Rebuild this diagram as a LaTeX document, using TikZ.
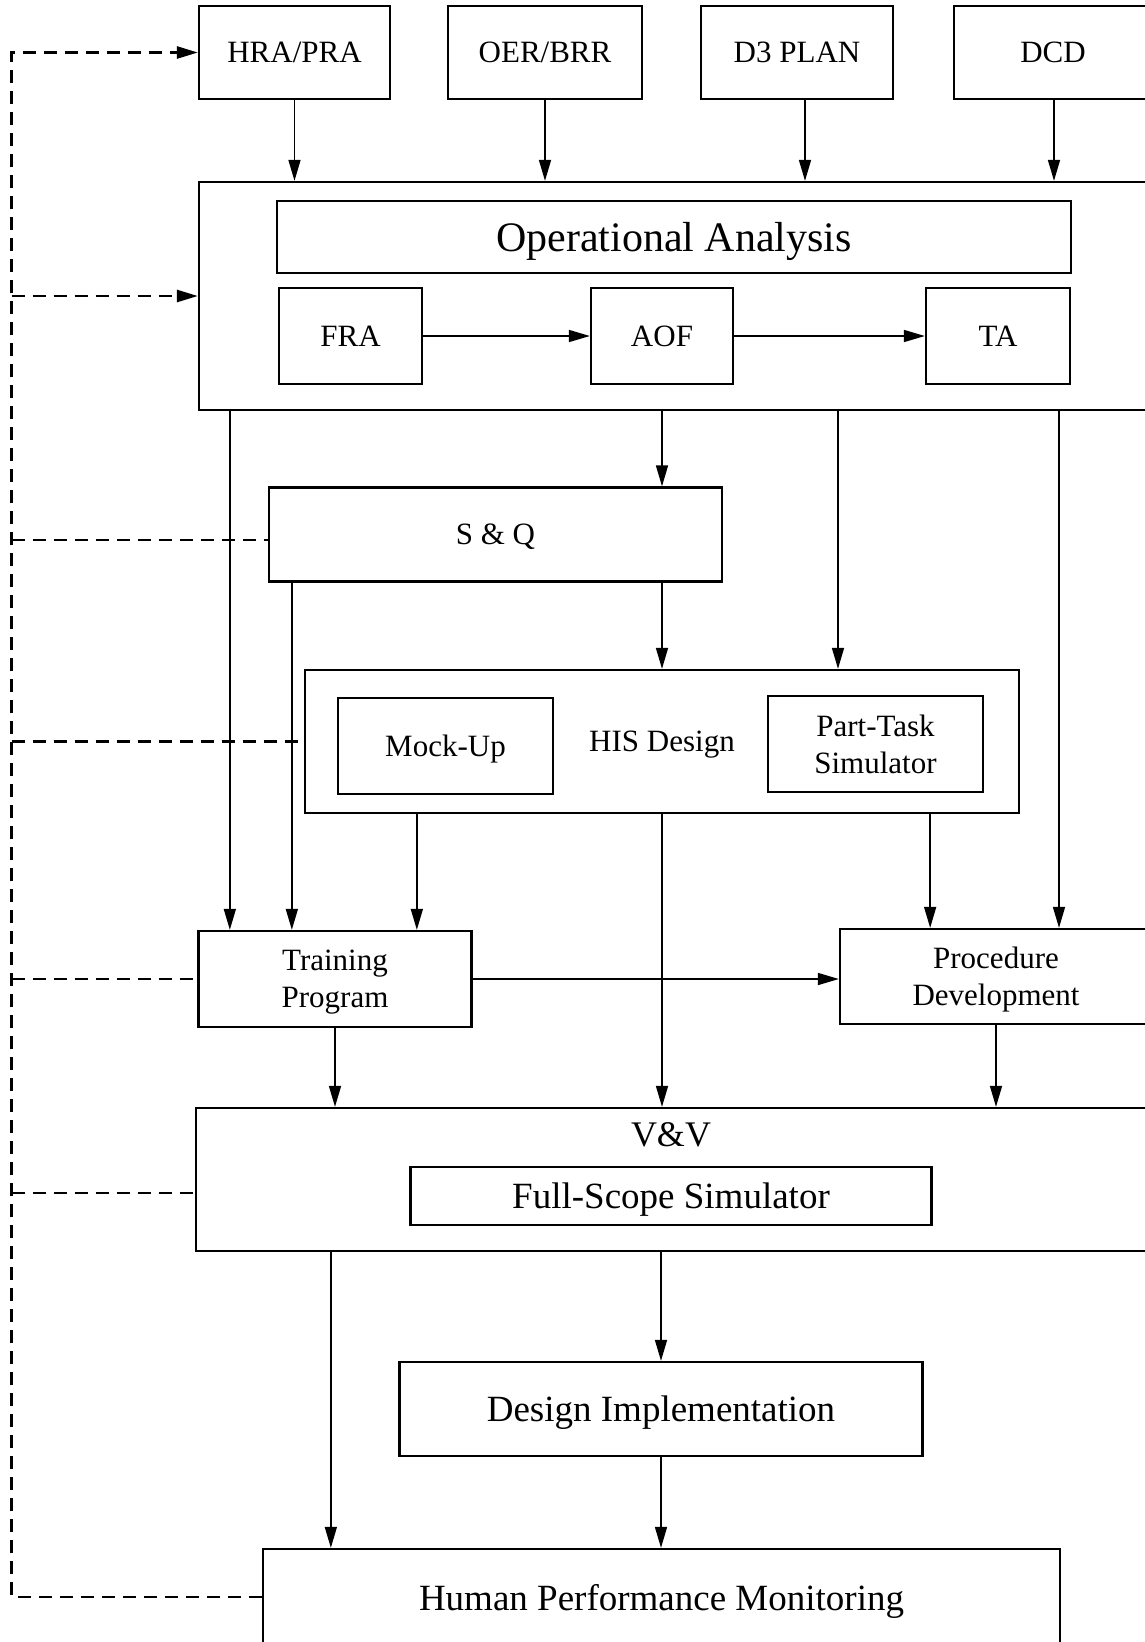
\documentclass[tikz,border=0pt]{standalone}
\usepackage{fontspec}
\setmainfont{Liberation Serif}
\usetikzlibrary{arrows.meta}
\begin{document}
\begin{tikzpicture}[x=1pt,y=-1pt,
  box/.style={draw, line width=2.3pt, inner sep=0pt, align=center, text depth=0pt, font=\fontsize{31}{37}\selectfont},
  bigbox/.style={box, font=\fontsize{37}{42}\selectfont},
  arr/.style={line width=1.6pt, -{Triangle[length=21pt,width=12pt]}},
  fb/.style={line width=2.6pt, dash pattern=on 13pt off 8pt},
  fbarr/.style={fb, -{Triangle[length=21pt,width=12pt]}},
]
\useasboundingbox (0,0) rectangle (1145,1642);
\clip (0,0) rectangle (1145,1642);
\fill[white] (0,0) rectangle (1145,1642);

% top inputs
\node[box, minimum width=191pt, minimum height=93pt] (hra) at (294.5,52.5) {HRA/PRA};
\node[box, minimum width=194pt, minimum height=93pt] (oer) at (545,52.5) {OER/BRR};
\node[box, minimum width=192pt, minimum height=93pt] (d3) at (797,52.5) {D3 PLAN};
\node[box, minimum width=198pt, minimum height=93pt] (dcd) at (1053,52.5) {DCD};

% operational analysis
\node[box, minimum width=966pt, minimum height=228pt] (oa) at (682,296) {};
\node[box, minimum width=794pt, minimum height=72pt, font=\fontsize{42}{48}\selectfont] (oat) at (674,237) {Operational Analysis};
\node[box, minimum width=143pt, minimum height=96pt] (fra) at (350.5,336) {FRA};
\node[box, minimum width=142pt, minimum height=96pt] (aof) at (662,336) {AOF};
\node[box, minimum width=144pt, minimum height=96pt] (ta) at (998,336) {TA};

% S&Q and HIS
\node[box, minimum width=453pt, minimum height=94pt] (sq) at (495.5,534.5) {S \& Q};
\node[box, minimum width=714pt, minimum height=143pt] (his) at (662,741.5) {HIS Design};
\node[box, minimum width=215pt, minimum height=96pt] (mock) at (445.5,746) {Mock-Up};
\node[box, minimum width=215pt, minimum height=96pt] (pts) at (875.5,744) {Part-Task\\Simulator};

% training / procedure
\node[box, minimum width=273pt, minimum height=96pt] (tp) at (335,979) {Training\\Program};
\node[box, minimum width=312pt, minimum height=95pt] (pd) at (996,976.5) {Procedure\\Development};

% V&V
\node[box, minimum width=969pt, minimum height=143pt] (vv) at (680.5,1179.5) {};
\node[inner sep=0pt, text depth=0pt, font=\fontsize{36}{42}\selectfont] (vvl) at (671,1135) {V\&V};
\node[bigbox, minimum width=521pt, minimum height=58pt] (fss) at (671,1196) {Full-Scope Simulator};

% implementation and monitoring
\node[bigbox, minimum width=523pt, minimum height=94pt] (di) at (661,1409) {Design Implementation};
\node[bigbox, minimum width=797pt, minimum height=96pt] (hpm) at (661.5,1597) {Human Performance Monitoring};

% helper coordinates
\coordinate (trunk) at (11.5,0);
\coordinate (xd3) at ([xshift=8pt]d3.south);
\coordinate (xdcd) at ([xshift=1pt]dcd.south);
\coordinate (o1) at ([xshift=32pt]oa.south west);
\coordinate (o3) at ([xshift=156pt]oa.south);
\coordinate (o4) at ([xshift=377pt]oa.south);
\coordinate (s1) at ([xshift=24pt]sq.south west);
\coordinate (h1) at ([xshift=113pt]his.south west);
\coordinate (h3) at ([xshift=-90pt]his.south east);
\coordinate (v1) at ([xshift=136pt]vv.south west);
\coordinate (sqd) at ([yshift=-5.5pt]sq.west);
\coordinate (vvd) at ([yshift=-13.5pt]vv.west);

% inputs to OA
\draw[arr] (hra.south) -- (hra.south |- oa.north);
\draw[arr] (oer.south) -- (oer.south |- oa.north);
\draw[arr] (xd3) -- (xd3 |- oa.north);
\draw[arr] (xdcd) -- (xdcd |- oa.north);

% inside OA
\draw[arr] (fra.east) -- (aof.west);
\draw[arr] (aof.east) -- (ta.west);

% from OA
\draw[arr] (o1) -- (o1 |- tp.north);
\draw[arr] (aof |- oa.south) -- (aof |- sq.north);
\draw[arr] (o3) -- (o3 |- his.north);
\draw[arr] (o4) -- (o4 |- pd.north);

% from S&Q
\draw[arr] (s1) -- (s1 |- tp.north);
\draw[arr] (aof |- sq.south) -- (aof |- his.north);

% from HIS
\draw[arr] (h1) -- (h1 |- tp.north);
\draw[arr] (his.south) -- (his.south |- vv.north);
\draw[arr] (h3) -- (h3 |- pd.north);

% training / procedure
\draw[arr] (tp.east) -- (tp.east -| pd.west);
\draw[arr] (tp.south) -- (tp.south |- vv.north);
\draw[arr] (pd.south) -- (pd.south |- vv.north);

% V&V onwards
\draw[arr] (di.north |- vv.south) -- (di.north);
\draw[arr] (v1) -- (v1 |- hpm.north);
\draw[arr] (di.south) -- (di.south |- hpm.north);

% feedback (dashed)
\draw[fbarr] (hpm.west) -- (trunk |- hpm.west) -- (trunk |- hra.west) -- (hra.west);
\draw[fbarr] (trunk |- oa.west) -- (oa.west);
\draw[fb] (trunk |- sqd) -- (sqd);
\draw[fb] (trunk |- his.west) -- (his.west);
\draw[fb] (trunk |- tp.west) -- (tp.west);
\draw[fb] (trunk |- vvd) -- (vvd);
\end{tikzpicture}
\end{document}
